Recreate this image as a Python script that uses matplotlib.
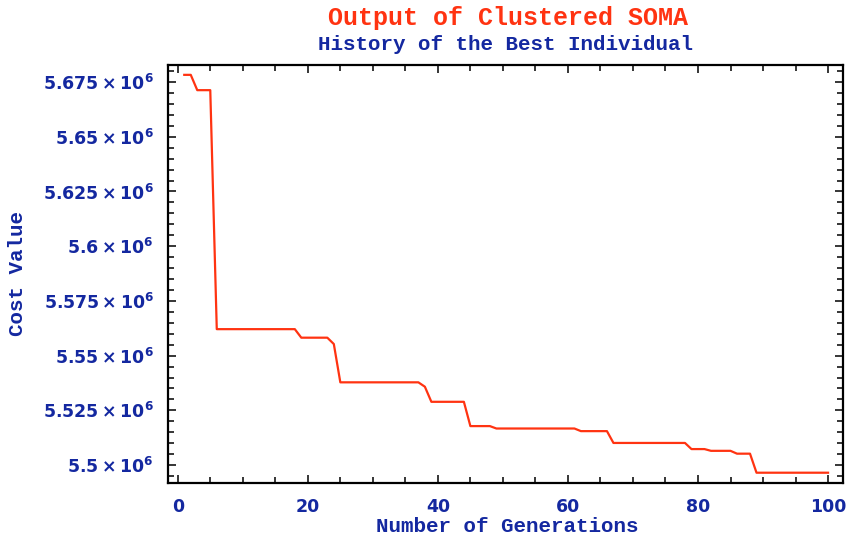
import matplotlib
matplotlib.use("Agg")
import matplotlib.pyplot as plt
from matplotlib.ticker import MultipleLocator, FuncFormatter

generations = [1, 2, 3, 5, 6, 18, 19, 23, 24, 25, 37, 38, 39, 44, 45, 48, 49,
               61, 62, 66, 67, 78, 79, 81, 82, 85, 86, 88, 89, 100]
cost = [5.6783e6, 5.6783e6, 5.6713e6, 5.6713e6, 5.5621e6, 5.5621e6, 5.5582e6,
        5.5582e6, 5.5553e6, 5.5378e6, 5.5378e6, 5.5358e6, 5.5289e6, 5.5289e6,
        5.5178e6, 5.5178e6, 5.5167e6, 5.5167e6, 5.5155e6, 5.5155e6, 5.5101e6,
        5.5101e6, 5.5073e6, 5.5073e6, 5.5065e6, 5.5065e6, 5.5052e6, 5.5052e6,
        5.4965e6, 5.4965e6]
x_ticks = [0, 20, 40, 60, 80, 100]
y_ticks = [5.5e6, 5.525e6, 5.55e6, 5.575e6, 5.6e6, 5.625e6, 5.65e6, 5.675e6]

RED = "#ff3311"
BLUE = "#1428a0"

plt.rcParams['mathtext.fontset'] = 'custom'
plt.rcParams['mathtext.rm'] = 'DejaVu Sans:bold'
plt.rcParams['mathtext.it'] = 'DejaVu Sans:bold'
plt.rcParams['mathtext.bf'] = 'DejaVu Sans:bold'

fig = plt.figure(figsize=(8.49, 5.39), dpi=100)
ax = fig.add_axes([168/849, 1-483/539, (843-168)/849, (483-65)/539])

ax.plot(generations, cost, color=RED, lw=1.6)

ax.set_xlim(-1.5, 102.3)
ax.set_ylim(5.4918e6, 5.6828e6)
ax.set_xticks(x_ticks)
ax.set_yticks(y_ticks)
ax.xaxis.set_minor_locator(MultipleLocator(5))
ax.yaxis.set_minor_locator(MultipleLocator(5000))

def yfmt(v, pos):
    return r"$%s\times10^{6}$" % (f"{v/1e6:.4f}".rstrip('0').rstrip('.'))
ax.yaxis.set_major_formatter(FuncFormatter(yfmt))

ax.tick_params(which='both', direction='in', top=True, right=True,
               colors='black', labelcolor=BLUE, width=1.1)
ax.tick_params(which='major', length=6, labelsize=12.5)
ax.tick_params(which='minor', length=4)
ax.tick_params(axis='x', pad=11)
ax.tick_params(axis='y', pad=10)
for lab in ax.get_xticklabels():
    lab.set_fontfamily('DejaVu Sans')
    lab.set_fontweight('bold')
for s in ax.spines.values():
    s.set_linewidth(1.6)

mono = 'Liberation Mono'
ax.set_xlabel("Number of Generations", family=mono, weight='bold', fontsize=15,
              color=BLUE)
ax.set_ylabel("Cost Value", family=mono, weight='bold', fontsize=15,
              color=BLUE)
ax.xaxis.label.set_va('center')
ax.yaxis.label.set_va('center')
ax.xaxis.set_label_coords((507-168)/675, (483-526)/418)
ax.yaxis.set_label_coords((18-168)/675, (483-273)/418)
fig.text(508/849, 1-18/539, "Output of Clustered SOMA", family=mono, weight='bold',
         fontsize=18, color=RED, ha='center', va='center')
fig.text(506/849, 1-44/539, "History of the Best Individual", family=mono,
         weight='bold', fontsize=15, color=BLUE, ha='center', va='center')

fig.savefig("out.png", dpi=100)
